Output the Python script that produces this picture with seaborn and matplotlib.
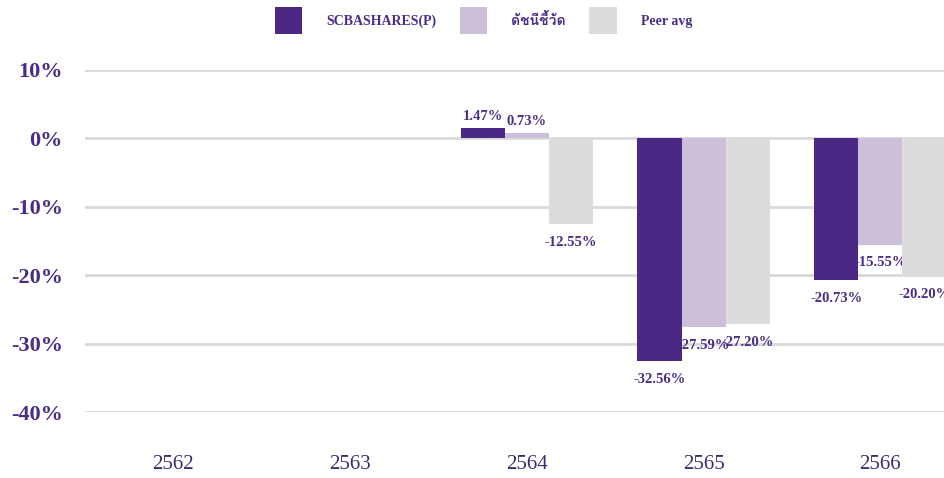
import numpy as np
import pandas as pd
import seaborn as sns
from matplotlib import pyplot as plt
from matplotlib import font_manager
from fontTools.ttLib import TTFont

sns.set_theme(style="white")

years = ["2562", "2563", "2564", "2565", "2566"]
series = ["SCBASHARES(P)", "ดัชนีชี้วัด", "Peer avg"]
fund = [np.nan, np.nan, 1.47, -32.56, -20.73]
bench = [np.nan, np.nan, 0.73, -27.59, -15.55]
peer = [np.nan, np.nan, -12.55, -27.20, -20.20]
colors = ["#4b2884", "#cbbfda", "#dcdcdc"]
yticks = [10, 0, -10, -20, -30, -40]

# find some installed font that has Thai glyphs
thai_fam = None
for f in font_manager.fontManager.ttflist:
    try:
        cmap = TTFont(f.fname, fontNumber=0, lazy=True).getBestCmap()
        if cmap and 0x0E14 in cmap:
            thai_fam = f.name
            break
    except Exception:
        pass
fams = ["Liberation Serif"] + ([thai_fam] if thai_fam else []) + ["DejaVu Sans"]
plt.rcParams["font.family"] = fams

d = pd.DataFrame({
    "year": years * 3,
    "series": sum([[s] * len(years) for s in series], []),
    "value": fund + bench + peer,
})

fig = plt.figure(figsize=(9.44, 4.78), dpi=100)
ax = fig.add_axes([0.09, 0.138, 0.91, 0.716])

for t in yticks:
    ax.axhline(t, color="#d9d9d9", lw=2, zorder=0)

sns.barplot(data=d, x="year", y="value", hue="series", order=years,
            hue_order=series, palette=colors, width=0.75, saturation=1,
            linewidth=0, ax=ax, zorder=2, legend=True)

purple = "#4b2c86"
for cont, vals in zip(ax.containers, [fund, bench, peer]):
    vv = [v for v in vals if not np.isnan(v)]
    for positive, pad in [(True, 4), (False, 8.5)]:
        labs = [f"{v:.2f}%" if (v >= 0) == positive else "" for v in vv]
        txts = ax.bar_label(cont, labels=labs, padding=pad, fontsize=10.5,
                            fontweight="bold", color=purple)
        for t in txts:
            t.set_zorder(1)

ax.set_xlim(-0.5, 4.36)
ax.set_ylim(-40, 10)
ax.set_yticks(yticks)
ax.set_yticklabels([f"{t}%" for t in yticks], fontsize=16, fontweight="bold",
                   color=purple)
ax.tick_params(axis="y", length=0, pad=16)
ax.tick_params(axis="x", length=0, pad=31, labelsize=15, labelcolor="#3d2a6e")
ax.set_xlabel("")
ax.set_ylabel("")
for s in ax.spines.values():
    s.set_visible(False)

h, l = ax.get_legend_handles_labels()
ax.legend(h, l, loc="center", bbox_to_anchor=(0.512, 0.957),
          bbox_transform=fig.transFigure, ncol=3, frameon=False,
          prop={"size": 10, "weight": "bold", "family": fams},
          labelcolor=purple, handlelength=2.0, handleheight=2.6,
          handletextpad=1.7, columnspacing=1.7)

plt.savefig("out.png", dpi=100)
